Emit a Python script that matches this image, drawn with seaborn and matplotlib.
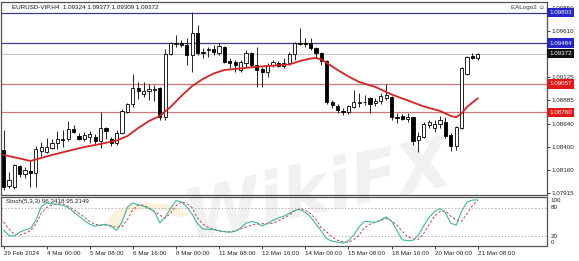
import numpy as np
import pandas as pd
import matplotlib
matplotlib.use("Agg")
import matplotlib.pyplot as plt
import matplotlib.transforms as mtransforms
from matplotlib.patches import Wedge
import seaborn as sns

# ---------------- data ----------------
opens = [1.08365, 1.07989, 1.07978, 1.08198, 1.08114, 1.08145, 1.08124, 1.08355, 1.08344, 1.08385,
         1.08438, 1.08469, 1.08479, 1.08584, 1.08511, 1.08479, 1.08500, 1.08500, 1.08459, 1.08594,
         1.08479, 1.08438, 1.08542, 1.08762, 1.08846, 1.09013, 1.08951, 1.08982, 1.08993, 1.09013,
         1.08709, 1.09369, 1.09474, 1.09484, 1.09463, 1.09359, 1.09589, 1.09390, 1.09411, 1.09421,
         1.09380, 1.09442, 1.09296, 1.09285, 1.09202, 1.09275, 1.09380, 1.09254, 1.09212, 1.09181,
         1.09254, 1.09275, 1.09244, 1.09275, 1.09369, 1.09484, 1.09484, 1.09484, 1.09432, 1.09380,
         1.09296, 1.08867, 1.08825, 1.08772, 1.08762, 1.08814, 1.08856, 1.08862, 1.08909, 1.08856,
         1.08877, 1.08909, 1.08919, 1.08712, 1.08720, 1.08688, 1.08709, 1.08469, 1.08500, 1.08626,
         1.08594, 1.08636, 1.08657, 1.08521, 1.08406, 1.08594, 1.09160, 1.09348, 1.09324]
highs = [1.08574, 1.08135, 1.08215, 1.08208, 1.08187, 1.08260, 1.08406, 1.08448, 1.08490, 1.08479,
         1.08563, 1.08574, 1.08668, 1.08626, 1.08542, 1.08553, 1.08563, 1.08532, 1.08762, 1.08605,
         1.08500, 1.08574, 1.08793, 1.08856, 1.09160, 1.09076, 1.09076, 1.09055, 1.09045, 1.09024,
         1.09421, 1.09495, 1.09568, 1.09516, 1.09537, 1.09808, 1.09673, 1.09432, 1.09442, 1.09463,
         1.09484, 1.09453, 1.09327, 1.09306, 1.09306, 1.09411, 1.09390, 1.09442, 1.09233, 1.09275,
         1.09306, 1.09296, 1.09327, 1.09390, 1.09495, 1.09641, 1.09537, 1.09537, 1.09442, 1.09390,
         1.09306, 1.08888, 1.08846, 1.08804, 1.08835, 1.08993, 1.08961, 1.08940, 1.08919, 1.08909,
         1.08961, 1.09055, 1.08930, 1.08751, 1.08741, 1.08751, 1.08715, 1.08553, 1.08657, 1.08678,
         1.08678, 1.08720, 1.08709, 1.08542, 1.08615, 1.09233, 1.09348, 1.09380, 1.09377]
lows = [1.07947, 1.07968, 1.07957, 1.08083, 1.08072, 1.07978, 1.07978, 1.08302, 1.08334, 1.08375,
        1.08375, 1.08396, 1.08459, 1.08542, 1.08469, 1.08459, 1.08438, 1.08417, 1.08385, 1.08479,
        1.08406, 1.08417, 1.08532, 1.08751, 1.08814, 1.08898, 1.08919, 1.08888, 1.08877, 1.08678,
        1.08678, 1.09359, 1.09442, 1.09442, 1.09254, 1.09181, 1.09359, 1.09327, 1.09338, 1.09359,
        1.09359, 1.09275, 1.09223, 1.09181, 1.09181, 1.09233, 1.09233, 1.09024, 1.09024, 1.09128,
        1.09233, 1.09233, 1.09223, 1.09254, 1.09306, 1.09463, 1.09442, 1.09411, 1.09327, 1.09254,
        1.08846, 1.08804, 1.08751, 1.08730, 1.08741, 1.08808, 1.08814, 1.08835, 1.08751, 1.08825,
        1.08846, 1.08888, 1.08678, 1.08647, 1.08678, 1.08657, 1.08417, 1.08344, 1.08490, 1.08594,
        1.08553, 1.08594, 1.08490, 1.08354, 1.08365, 1.08584, 1.09149, 1.09317, 1.09309]
closes = [1.07978, 1.08051, 1.08208, 1.08114, 1.08156, 1.08124, 1.08375, 1.08396, 1.08396, 1.08438,
          1.08479, 1.08479, 1.08584, 1.08553, 1.08479, 1.08521, 1.08532, 1.08459, 1.08594, 1.08563,
          1.08438, 1.08542, 1.08772, 1.08846, 1.09013, 1.08982, 1.08982, 1.09003, 1.09003, 1.08709,
          1.09369, 1.09484, 1.09484, 1.09463, 1.09359, 1.09589, 1.09380, 1.09380, 1.09421, 1.09390,
          1.09453, 1.09285, 1.09275, 1.09254, 1.09285, 1.09380, 1.09254, 1.09202, 1.09181, 1.09254,
          1.09285, 1.09244, 1.09275, 1.09369, 1.09484, 1.09474, 1.09474, 1.09432, 1.09380, 1.09296,
          1.08867, 1.08835, 1.08783, 1.08762, 1.08825, 1.08867, 1.08867, 1.08867, 1.08846, 1.08877,
          1.08930, 1.08940, 1.08709, 1.08704, 1.08688, 1.08709, 1.08459, 1.08511, 1.08636, 1.08657,
          1.08636, 1.08678, 1.08511, 1.08406, 1.08605, 1.09223, 1.09338, 1.09327, 1.09372]

ma_bars = [0, 3, 5, 6, 9, 12, 15, 18, 21, 23, 25, 27, 29, 31, 33, 35, 37, 39, 41, 44, 47,
           50, 53, 55, 57, 58, 59, 60, 62, 64, 66, 69, 72, 75, 78, 81, 83, 84, 85, 86, 88]
ma_values = [1.08313, 1.08276, 1.08250, 1.08266, 1.08313, 1.08355, 1.08396, 1.08428, 1.08464,
             1.08511, 1.08595, 1.08668, 1.08721, 1.08815, 1.08930, 1.09034, 1.09108, 1.09165,
             1.09202, 1.09218, 1.09236, 1.09247, 1.09259, 1.09296, 1.09322, 1.09327, 1.09312,
             1.09275, 1.09202, 1.09134, 1.09076, 1.09024, 1.08946, 1.08883, 1.08820, 1.08773,
             1.08721, 1.08707, 1.08747, 1.08815, 1.08906]

stoch_main = [33, 21, 20, 28, 33, 36, 53, 82, 90, 88,
              87, 85, 80, 71, 62, 53, 45, 41, 43, 45,
              40, 32, 50, 81, 90, 86, 83, 78, 72, 48,
              60, 78, 95, 92, 82, 66, 46, 35, 34, 34,
              31, 29, 28, 30, 37, 47, 51, 48, 41, 47,
              53, 58, 62, 68, 74, 76, 70, 60, 45, 30,
              14, 9, 7, 5, 10, 22, 40, 51, 50, 49,
              54, 60, 52, 32, 12, 10, 11, 22, 42, 60,
              72, 78, 69, 47, 43, 72, 92, 96, 96.34]
stoch_signal = [50, 35, 24, 22, 26, 31, 45, 68, 80, 86,
                88, 88, 83, 76, 68, 60, 50, 45, 43, 43,
                42, 38, 40, 55, 76, 86, 85, 80, 72, 64,
                58, 68, 84, 92, 89, 80, 58, 45, 38, 34,
                31, 30, 29, 31, 35, 39, 43, 45, 46, 46,
                47, 52, 58, 64, 73, 78, 75, 67, 55, 37,
                28, 18, 11, 8, 7, 12, 22, 38, 45, 49,
                53, 57, 52, 43, 30, 18, 14, 13, 26, 45,
                62, 72, 73, 62, 54, 51, 67, 84, 95.21]

blue_levels = [1.09803, 1.09484]
red_levels = [1.09057, 1.08760]
last_price = 1.09372
price_ticks = [1.07915, 1.08160, 1.08400, 1.08640, 1.08885, 1.09125, 1.09610, 1.09850]
time_labels = ["29 Feb 2024", "4 Mar 00:00", "5 Mar 08:00", "6 Mar 16:00", "8 Mar 00:00",
               "11 Mar 08:00", "12 Mar 16:00", "14 Mar 00:00", "15 Mar 08:00",
               "18 Mar 16:00", "20 Mar 00:00", "21 Mar 08:00"]
time_label_bars = [0, 8, 16, 24, 32, 40, 48, 56, 64, 72, 80, 88]
stoch_levels = [20, 80]

# ---------------- figure ----------------
sns.set_style("white")
plt.rcParams["font.family"] = ["Liberation Sans", "DejaVu Sans"]

W, H = 579, 261
fig = plt.figure(figsize=(W / 100, H / 100), dpi=100)
fig.patch.set_facecolor("white")

def frac_box(x0, y0, x1, y1):
    return [x0 / W, 1 - y1 / H, (x1 - x0) / W, (y1 - y0) / H]

ax = fig.add_axes(frac_box(0.5, 2, 547, 195))
axs = fig.add_axes(frac_box(0.5, 197, 547, 245.5), sharex=ax)
for a in (ax, axs):
    a.set_facecolor("none")
    for s in a.spines.values():
        s.set_color("#505050")
        s.set_linewidth(0.9)

# faint watermark (logo ring + text)
ring = Wedge((150 / W, 1 - 222 / H), 42 / W, 20, 200, width=14 / W,
             transform=fig.transFigure, fc="#fbf2dc", ec="none", zorder=-6)
fig.patches.append(ring)
fig.text(318 / W, 1 - 192 / H, "WikiFX", fontsize=50, fontweight="bold", style="italic",
         color="#f1f1f1", ha="center", va="center", rotation=12, zorder=-5,
         family="DejaVu Sans")

df = pd.DataFrame({"bar": np.arange(len(opens)), "open": opens, "high": highs,
                   "low": lows, "close": closes})
df["up"] = df["close"] >= df["open"]
df["body_low"] = df[["open", "close"]].min(axis=1)
df["body_h"] = (df["close"] - df["open"]).abs()

# horizontal levels
for lv in blue_levels:
    ax.axhline(lv, color="#3b3b96", lw=0.9, zorder=1)
for lv in red_levels:
    ax.axhline(lv, color="#d07878", lw=0.9, zorder=1)
ax.axhline(last_price, color="#c8c8c8", lw=0.8, zorder=1)

# candles
ax.vlines(df["bar"], df["low"], df["high"], color="black", lw=0.6, zorder=3)
ax.bar(df["bar"], df["body_h"], bottom=df["body_low"], width=0.6,
       color=np.where(df["up"], "white", "black"), edgecolor="black", linewidth=0.6, zorder=4)

# moving average
ma_df = pd.DataFrame({"bar": ma_bars, "ma": ma_values})
sns.lineplot(data=ma_df, x="bar", y="ma", ax=ax, color="#d42424", lw=1.3, zorder=6)

ax.set_xlim(-0.56, 100.85)
ax.set_ylim(1.07894, 1.09913)
ax.set_xlabel("")
ax.set_ylabel("")
ax.tick_params(axis="x", bottom=False, labelbottom=False)
ax.yaxis.tick_right()
ax.set_yticks(price_ticks)
ax.set_yticklabels([f"{v:.5f}" for v in price_ticks])
ax.tick_params(axis="y", right=True, length=2, width=0.6, pad=1.5, labelsize=4.5,
               colors="#222222")

# price label boxes
trans = mtransforms.blended_transform_factory(ax.transAxes, ax.transData)
def price_box(v, fc):
    ax.text(1.004, v, f"{v:.5f}", transform=trans, fontsize=4.5, color="white",
            ha="left", va="center", zorder=10, clip_on=False,
            bbox=dict(boxstyle="square,pad=0.35", fc=fc, ec=fc, lw=0))
for lv in blue_levels:
    price_box(lv, "#2424c8")
for lv in red_levels:
    price_box(lv, "#e01818")
price_box(last_price, "#111111")

# header texts
fig.text(12 / W, 1 - 7 / H, "EURUSD-VIP,H4  1.09324 1.09377 1.09309 1.09372",
         fontsize=4.5, ha="left", va="center", color="#111111")
fig.text(545 / W, 1 - 8 / H, "EALogo2 \u263a", fontsize=4.5, ha="right", va="center",
         color="#333333", family=["Liberation Sans", "DejaVu Sans"])

# stochastic panel
st_df = pd.DataFrame({"bar": np.arange(len(stoch_main)), "main": stoch_main,
                      "signal": stoch_signal})
for lv in stoch_levels:
    axs.axhline(lv, color="#b0b0b0", lw=0.6, ls=(0, (2, 2)), zorder=1)
sns.lineplot(data=st_df, x="bar", y="main", ax=axs, color="#3cb8a0", lw=0.8, zorder=4)
sns.lineplot(data=st_df, x="bar", y="signal", ax=axs, color="#d83c3c", lw=0.7,
             ls=(0, (2.5, 2)), zorder=3)
axs.set_ylim(0, 102.5)
axs.set_xlabel("")
axs.set_ylabel("")
axs.set_yticks([])
strans = mtransforms.blended_transform_factory(axs.transAxes, axs.transData)
for v, va in [(100, "top"), (80, "center"), (20, "center"), (0, "bottom")]:
    axs.text(1.006, v, str(v), transform=strans, fontsize=4.5, ha="left", va=va,
             color="#222222", clip_on=False)
axs.text(5 / 546.5, 92, "Stoch(5,3,3) 96.3418 95.2149", transform=strans, fontsize=4.5,
         ha="left", va="center", color="#222222")
axs.set_xticks(time_label_bars)
axs.set_xticklabels(time_labels, ha="left")
axs.tick_params(axis="x", bottom=True, length=2.5, width=0.6, pad=1.5, labelsize=4.5,
                colors="#222222")

fig.savefig("out.png", dpi=100, facecolor="white")
